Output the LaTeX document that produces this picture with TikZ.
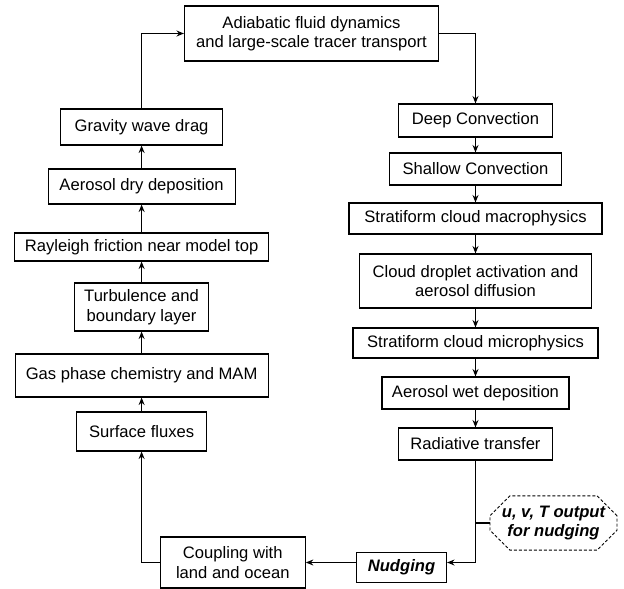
\documentclass[tikz,border=0pt]{standalone}
\usepackage{fontspec}
\setmainfont{Liberation Sans}
\usetikzlibrary{arrows.meta,shapes.misc}
\begin{document}
\begin{tikzpicture}[x=1pt,y=-1pt,
  box/.style={draw, line width=1.1pt, inner sep=0pt, align=center,
    font=\fontsize{16.6}{19.5}\selectfont},
  arr/.style={line width=1.1pt, -{Stealth[length=7.5pt,width=6pt,inset=2.5pt]}},
  ln/.style={line width=1.1pt}]
\useasboundingbox (0,0) rectangle (624,589);
% left column x = 141.6, right column x = 475.5
\node[box, minimum width=254pt, minimum height=55pt] (top) at (311.5,33.5) {Adiabatic fluid dynamics\\and large-scale tracer transport};
\node[box, minimum width=162pt, minimum height=36pt] (gwd) at (141.6,127) {Gravity wave drag};
\node[box, minimum width=187pt, minimum height=35pt] (ady) at (141.6,186.5) {Aerosol dry deposition};
\node[box, minimum width=254pt, minimum height=28pt] (ray) at (141.6,247) {Rayleigh friction near model top};
\node[box, minimum width=134pt, minimum height=48pt] (turb) at (141.6,307) {Turbulence and\\boundary layer};
\node[box, minimum width=253pt, minimum height=43pt] (gas) at (141.6,375.5) {Gas phase chemistry and MAM};
\node[box, minimum width=130pt, minimum height=39pt] (surf) at (141.6,431.5) {Surface fluxes};
\node[box, minimum width=145pt, minimum height=51pt] (coup) at (232.8,562.5) {Coupling with\\land and ocean};
\node[box, minimum width=90pt, minimum height=30pt, font=\fontsize{16.6}{19.5}\selectfont\bfseries\itshape] (nudg) at (401.5,567.5) {Nudging};
\node[box, chamfered rectangle, chamfered rectangle xsep=10pt, chamfered rectangle ysep=10pt, dash pattern=on 3pt off 2pt, line width=0.9pt, minimum width=127pt, minimum height=52pt, font=\fontsize{16.6}{19.5}\selectfont\bfseries\itshape] (uvt) at (553.5,523) {u, v, T output\\for nudging};
\node[box, minimum width=154pt, minimum height=33pt] (deep) at (475.5,120.5) {Deep Convection};
\node[box, minimum width=172pt, minimum height=32pt] (shal) at (475.5,169) {Shallow Convection};
\node[box, minimum width=253pt, minimum height=31pt] (macro) at (475.5,218.5) {Stratiform cloud macrophysics};
\node[box, minimum width=232pt, minimum height=54pt] (cdrop) at (475.5,281) {Cloud droplet activation and\\aerosol diffusion};
\node[box, minimum width=245pt, minimum height=30pt] (micro) at (475.5,343) {Stratiform cloud microphysics};
\node[box, minimum width=187pt, minimum height=32pt] (wet) at (475.5,393) {Aerosol wet deposition};
\node[box, minimum width=154pt, minimum height=32pt] (rad) at (475.5,444) {Radiative transfer};
\coordinate (corner) at (475.5,562.5);
% connectors
\draw[arr] (gwd.north) |- (top.west);
\draw[arr] (top.east) -| (deep.north);
\draw[arr] (deep) -- (shal);
\draw[arr] (shal) -- (macro);
\draw[arr] (macro) -- (cdrop);
\draw[arr] (cdrop) -- (micro);
\draw[arr] (micro) -- (wet);
\draw[arr] (wet) -- (rad);
\draw[arr] (rad.south) -- (corner) -- (corner -| nudg.east);
\draw[ln] (uvt.west) -- (uvt.west -| corner);
\draw[arr] (corner -| nudg.west) -- (corner -| coup.east);
\draw[arr] (coup.west) -| (surf.south);
\draw[arr] (surf) -- (gas);
\draw[arr] (gas) -- (turb);
\draw[arr] (turb) -- (ray);
\draw[arr] (ray) -- (ady);
\draw[arr] (ady) -- (gwd);
\end{tikzpicture}
\end{document}
